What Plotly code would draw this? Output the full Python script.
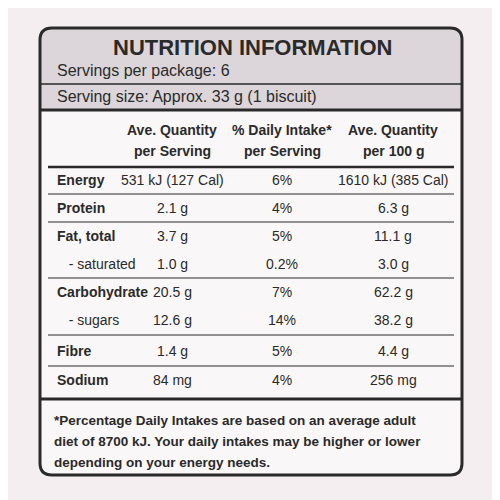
import plotly.graph_objects as go

title = "NUTRITION INFORMATION"
sub_lines = ["Servings per package: 6", "Serving size: Approx. 33 g (1 biscuit)"]
col_heads = [["Ave. Quantity", "per Serving"], ["% Daily Intake*", "per Serving"], ["Ave. Quantity", "per 100 g"]]
nutrients = ["Energy", "Protein", "Fat, total", "  - saturated", "Carbohydrate", "  - sugars", "Fibre", "Sodium"]
bold_nut = [True, True, True, False, True, False, True, True]
per_serving = ["531 kJ (127 Cal)", "2.1 g", "3.7 g", "1.0 g", "20.5 g", "12.6 g", "1.4 g", "84 mg"]
daily_intake = ["6%", "4%", "5%", "0.2%", "7%", "14%", "5%", "4%"]
per_100g = ["1610 kJ (385 Cal)", "6.3 g", "11.1 g", "3.0 g", "62.2 g", "38.2 g", "4.4 g", "256 mg"]
footnote = ["*Percentage Daily Intakes are based on an average adult",
            "diet of 8700 kJ. Your daily intakes may be higher or lower",
            "depending on your energy needs."]

row_y = [180, 208, 236, 264, 292, 320, 351, 380]
FONT = "Liberation Sans Narrow, Arial Narrow, Liberation Sans, Arial"
DARK = "#2a2a2a"
fig = go.Figure()
ann = []
def t(x, y, s, size=15, bold=False, anchor="center"):
    ann.append(dict(x=x, y=y, text=f"<b>{s}</b>" if bold else s, showarrow=False,
                    xanchor=anchor, yanchor="middle", font=dict(family=FONT, size=size, color=DARK)))

t(252, 47, title, 22, True)
t(55, 70, sub_lines[0], 16, anchor="left")
t(55, 96, sub_lines[1], 16, anchor="left")
cx = [172, 282, 393]
for c, h in zip(cx, col_heads):
    t(c, 130, h[0], 14, True); t(c, 151, h[1], 14, True)
for i, y in enumerate(row_y):
    t(55, y, nutrients[i].replace("  ", "&nbsp;&nbsp;&nbsp;"), 14, bold_nut[i], "left")
    t(cx[0], y, per_serving[i], 14); t(cx[1], y, daily_intake[i], 14); t(cx[2], y, per_100g[i], 14)
for k, s in enumerate(footnote):
    t(52, 420 + 21 * k, s, 13.5, True, "left")

L, R, T, B, r = 40, 462, 28, 475, 12
box = f"M {L+r},{T} L {R-r},{T} Q {R},{T} {R},{T+r} L {R},{B-r} Q {R},{B} {R-r},{B} L {L+r},{B} Q {L},{B} {L},{B-r} L {L},{T+r} Q {L},{T} {L+r},{T} Z"
head = f"M {L+r},{T} L {R-r},{T} Q {R},{T} {R},{T+r} L {R},110 L {L},110 L {L},{T+r} Q {L},{T} {L+r},{T} Z"
shapes = [
    dict(type="path", path=box, fillcolor="#faf7f8", line=dict(width=0), layer="below"),
    dict(type="path", path=head, fillcolor="#dcd6da", line=dict(width=0), layer="below"),
    dict(type="path", path=box, fillcolor="rgba(0,0,0,0)", line=dict(color=DARK, width=3)),
]
def hl(y, w, x0=L, x1=R):
    shapes.append(dict(type="line", x0=x0, x1=x1, y0=y, y1=y, line=dict(color=DARK, width=w)))
hl(84, 1.5); hl(110, 3); hl(167, 2.5, 48, 454)
for y in [194, 222, 278, 335, 366]:
    hl(y, 1, 48, 454)
hl(399, 3)

fig.update_layout(width=500, height=500, margin=dict(l=0, r=0, t=0, b=0),
                  paper_bgcolor="#f4eef1", plot_bgcolor="#f4eef1", annotations=ann, shapes=shapes,
                  xaxis=dict(range=[8, 508], visible=False, fixedrange=True),
                  yaxis=dict(range=[508, 8], visible=False, fixedrange=True), showlegend=False)
fig.write_html("out.html")
